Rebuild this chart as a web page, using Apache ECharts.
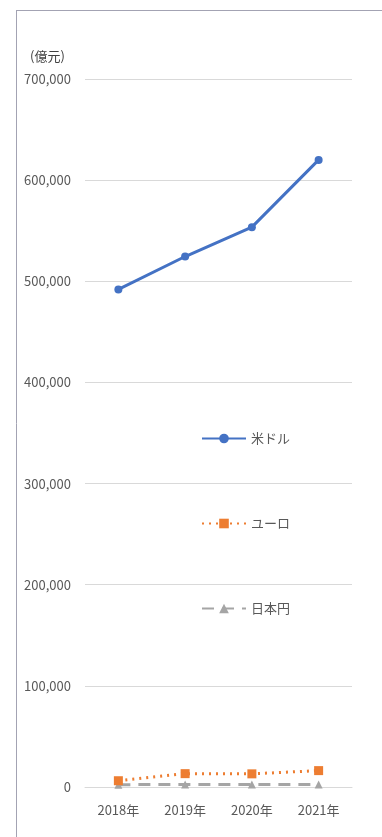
<!DOCTYPE html>
<html>
<head>
<meta charset="utf-8">
<script src="https://cdn.jsdelivr.net/npm/echarts@6/dist/echarts.min.js"></script>
<style>
  html, body { margin: 0; padding: 0; background: #fff; }
  #chart { width: 382px; height: 837px; }
</style>
</head>
<body>
<div id="chart"></div>
<script>
  // 年度・通貨別の値（億元）
  const years = ['2018年', '2019年', '2020年', '2021年']
  const usd = [492000, 524500, 553500, 620000]
  const eur = [6200, 13200, 13000, 16200]
  const jpy = [2300, 2500, 2400, 2500]
  const yTicks = { min: 0, max: 700000, interval: 100000 }

  const font = '"Noto Sans CJK JP", "Noto Sans", sans-serif'
  const textColor = '#595959'

  const chart = echarts.init(document.getElementById('chart'))
  chart.setOption({
    animation: false,
    textStyle: { fontFamily: font },
    title: {
      text: '(億元)',
      left: 25,
      top: 45,
      textStyle: { fontSize: 13, fontWeight: 'normal', color: '#404040', fontFamily: font }
    },
    graphic: [
      { type: 'line', shape: { x1: 16.5, y1: 10, x2: 16.5, y2: 837 }, style: { stroke: '#a3a3b3', lineWidth: 1 } },
      { type: 'line', shape: { x1: 16, y1: 10.5, x2: 382, y2: 10.5 }, style: { stroke: '#a3a3b3', lineWidth: 1 } }
    ],
    legend: {
      orient: 'vertical',
      left: 196,
      top: 427,
      itemWidth: 44,
      itemHeight: 12,
      itemGap: 72,
      textStyle: { fontSize: 13, color: textColor, fontFamily: font },
      data: ['米ドル', 'ユーロ', '日本円']
    },
    grid: { left: 85, right: 30, top: 79, bottom: 50 },
    xAxis: {
      type: 'category',
      data: years,
      axisLine: { lineStyle: { color: '#d9d9d9' } },
      axisTick: { show: false },
      axisLabel: { fontSize: 13, color: textColor, margin: 17 }
    },
    yAxis: {
      type: 'value',
      min: yTicks.min,
      max: yTicks.max,
      interval: yTicks.interval,
      axisLabel: {
        fontSize: 13,
        color: textColor,
        margin: 14,
        formatter: v => v.toLocaleString('en-US')
      },
      splitLine: { lineStyle: { color: '#d9d9d9' } }
    },
    series: [
      {
        name: '米ドル',
        type: 'line',
        data: usd,
        symbol: 'circle',
        symbolSize: 8,
        itemStyle: { color: '#4472c4' },
        lineStyle: { width: 3, color: '#4472c4' },
        z: 3
      },
      {
        name: 'ユーロ',
        type: 'line',
        data: eur,
        symbol: 'rect',
        symbolSize: 9,
        itemStyle: { color: '#ed7d31' },
        lineStyle: { width: 3, color: '#ed7d31', type: [2, 5] },
        z: 3
      },
      {
        name: '日本円',
        type: 'line',
        data: jpy,
        symbol: 'triangle',
        symbolSize: 8,
        itemStyle: { color: '#a5a5a5' },
        lineStyle: { width: 3, color: '#a5a5a5', type: [12, 8] },
        z: 2
      }
    ]
  })
</script>
</body>
</html>
